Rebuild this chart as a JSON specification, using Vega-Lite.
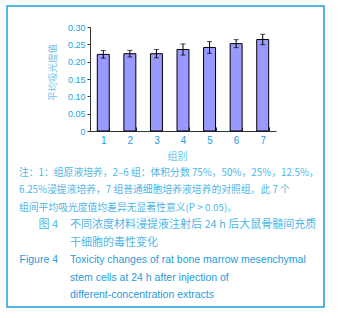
{
  "$schema": "https://vega.github.io/schema/vega-lite/v6.json",
  "width": 317,
  "height": 301,
  "autosize": {"type": "none"},
  "padding": {"left": 7, "top": 6, "right": 25, "bottom": 11},
  "background": "white",
  "config": {
    "view": {"stroke": "#1ea0dc", "strokeWidth": 1.5},
    "axis": {"domainColor": "#333333", "tickColor": "#333333", "labelColor": "#1a9fe0", "titleColor": "#6cc4ec", "labelFont": "Liberation Sans", "titleFont": "Noto Sans CJK SC", "titleFontWeight": "normal", "grid": false}
  },
  "datasets": {
    "bars": [
      {"g": "1", "mean": 0.221, "err": 0.011},
      {"g": "2", "mean": 0.223, "err": 0.0095},
      {"g": "3", "mean": 0.223, "err": 0.012},
      {"g": "4", "mean": 0.235, "err": 0.016},
      {"g": "5", "mean": 0.241, "err": 0.017},
      {"g": "6", "mean": 0.252, "err": 0.0115},
      {"g": "7", "mean": 0.264, "err": 0.015}
    ],
    "text": [
      {"line": 1, "col": "note", "role": "body", "lang": "zh", "text": "注：1：组原液培养，2–6 组：体积分数 75%，50%，25%，12.5%，"},
      {"line": 2, "col": "note", "role": "body", "lang": "zh", "text": "6.25%浸提液培养，7 组普通细胞培养液培养的对照组。此 7 个"},
      {"line": 3, "col": "note", "role": "body", "lang": "zh", "text": "组间平均吸光度值均差异无显著性意义(P > 0.05)。"},
      {"line": 4, "col": "caption", "role": "label", "lang": "zh", "text": "图 4"},
      {"line": 4, "col": "caption", "role": "body", "lang": "zh", "text": "不同浓度材料浸提液注射后 24 h 后大鼠骨髓间充质"},
      {"line": 5, "col": "caption", "role": "body", "lang": "zh", "text": "干细胞的毒性变化"},
      {"line": 6, "col": "caption", "role": "label", "lang": "en", "text": "Figure 4"},
      {"line": 6, "col": "caption", "role": "body", "lang": "en", "text": "Toxicity changes of rat bone marrow mesenchymal"},
      {"line": 7, "col": "caption", "role": "body", "lang": "en", "text": "stem cells at 24 h after injection of"},
      {"line": 8, "col": "caption", "role": "body", "lang": "en", "text": "different-concentration extracts"}
    ]
  },
  "layer": [
    {
      "data": {"name": "bars"},
      "encoding": {
        "x": {
          "field": "g", "type": "nominal", "sort": null,
          "scale": {"type": "band", "range": [83, 269], "paddingInner": 0.55, "paddingOuter": 0.275},
          "axis": {"title": "组别", "labelAngle": 0, "offset": -176, "tickBand": "extent", "tickSize": -4, "labelPadding": 8, "labelFontSize": 10, "titleFontSize": 10, "titlePadding": 6, "titleX": 170}
        },
        "y": {
          "field": "mean", "type": "quantitative",
          "scale": {"domain": [0, 0.3], "range": [125, 21], "nice": false, "zero": true},
          "axis": {"title": "平均吸光度值", "offset": -83, "values": [0, 0.05, 0.1, 0.15, 0.2, 0.25, 0.3], "labelExpr": "datum.value === 0 ? '0' : format(datum.value, '.2f')", "tickSize": 3, "labelPadding": 2, "labelFontSize": 9, "titleFontSize": 9.5, "titlePadding": 10, "titleY": 66}
        }
      },
      "layer": [
        {"mark": {"type": "bar", "color": "#9999ff", "stroke": "black", "strokeWidth": 1}},
        {
          "mark": {"type": "errorbar", "color": "black", "thickness": 1, "ticks": {"size": 5, "color": "black"}},
          "encoding": {"yError": {"field": "err"}}
        }
      ]
    },
    {
      "data": {"name": "text"},
      "encoding": {
        "x": {"field": "col", "type": "nominal", "scale": {"type": "point", "domain": ["note", "caption"], "range": [6, 57], "padding": 0}, "axis": null},
        "y": {"field": "line", "type": "ordinal", "scale": {"type": "point", "domain": [1, 2, 3, 4, 5, 6, 7, 8], "range": [167, 289], "padding": 0}, "axis": null},
        "text": {"field": "text"},
        "color": {"field": "lang", "type": "nominal", "scale": {"domain": ["zh", "en"], "range": ["#4db6e8", "#1f9bda"]}, "legend": null}
      },
      "layer": [
        {
          "transform": [{"filter": "datum.col === 'note'"}],
          "mark": {"type": "text", "align": "left", "baseline": "middle", "dx": 6, "fontSize": 9.8, "font": "Noto Sans CJK SC"}
        },
        {
          "transform": [{"filter": "datum.col === 'caption' && datum.role === 'body' && datum.lang === 'zh'"}],
          "mark": {"type": "text", "align": "left", "baseline": "middle", "dx": 6, "fontSize": 11, "font": "Noto Sans CJK SC"}
        },
        {
          "transform": [{"filter": "datum.role === 'body' && datum.lang === 'en'"}],
          "mark": {"type": "text", "align": "left", "baseline": "middle", "dx": 6, "fontSize": 10.5, "font": "Liberation Sans"}
        },
        {
          "transform": [{"filter": "datum.role === 'label' && datum.lang === 'zh'"}],
          "mark": {"type": "text", "align": "right", "baseline": "middle", "dx": -6, "fontSize": 11, "font": "Noto Sans CJK SC"}
        },
        {
          "transform": [{"filter": "datum.role === 'label' && datum.lang === 'en'"}],
          "mark": {"type": "text", "align": "right", "baseline": "middle", "dx": -6, "fontSize": 10.5, "font": "Liberation Sans"}
        }
      ]
    }
  ],
  "resolve": {"scale": {"x": "independent", "y": "independent", "color": "independent"}, "axis": {"x": "independent", "y": "independent"}}
}
